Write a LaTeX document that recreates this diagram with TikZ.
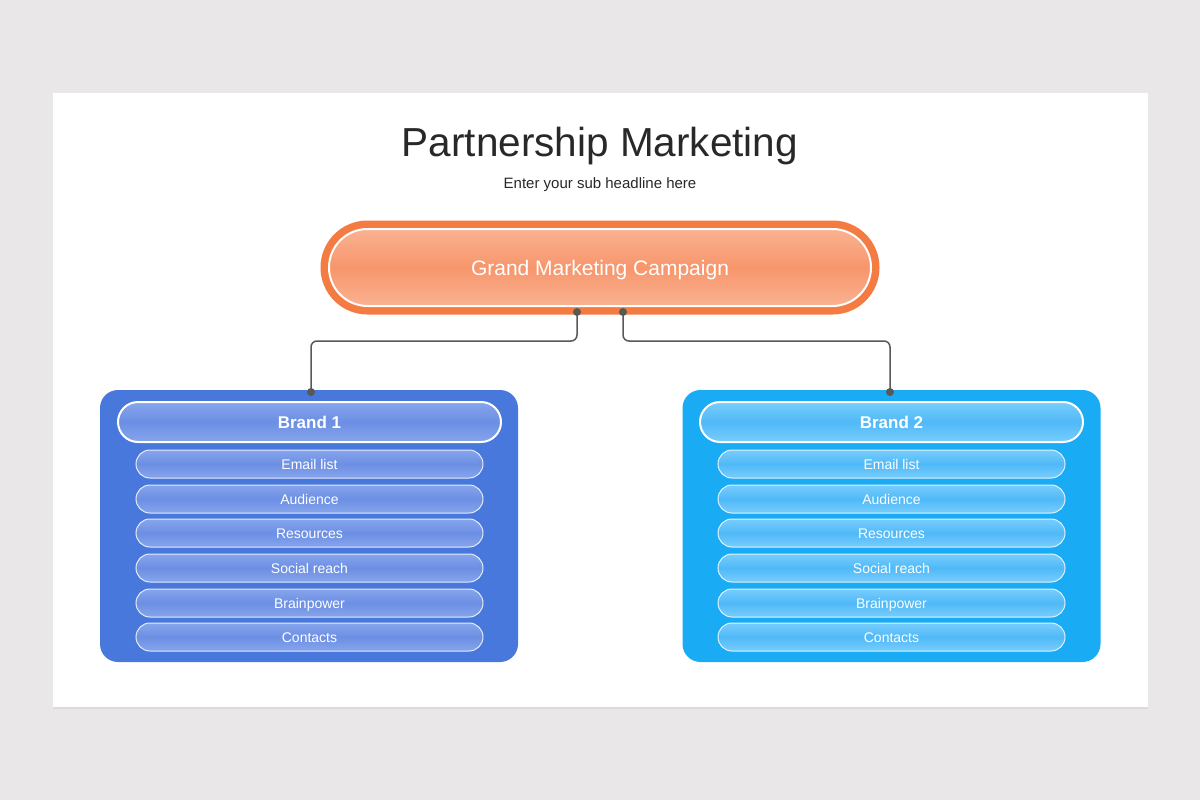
\documentclass[tikz,border=0pt]{standalone}
\usepackage{fontspec}
\setmainfont{Liberation Sans}
\usepackage{tikz}
\usetikzlibrary{positioning, shadows}
\definecolor{pagegray}{RGB}{233,231,232}
\definecolor{titlecolor}{RGB}{40,40,40}
\definecolor{orangeline}{RGB}{244,123,66}
\definecolor{orangetop}{RGB}{250,178,145}
\definecolor{orangemid}{RGB}{247,150,108}
\definecolor{brandAcolor}{RGB}{72,120,220}
\definecolor{brandAtop}{RGB}{135,165,236}
\definecolor{brandAmid}{RGB}{108,143,228}
\definecolor{brandBcolor}{RGB}{26,171,245}
\definecolor{brandBtop}{RGB}{120,205,252}
\definecolor{brandBmid}{RGB}{80,185,248}
\definecolor{linkcolor}{RGB}{88,88,88}

\begin{document}
\begin{tikzpicture}[
    x=1pt, y=-1pt,
    campaign/.style={shade, top color=orangetop, bottom color=orangetop, middle color=orangemid,
        draw=white, line width=2pt, preaction={draw=orangeline, line width=17pt},
        minimum width=542pt, minimum height=77pt, rounded corners=38.5pt, inner sep=0pt,
        text=white, font=\fontsize{21}{21}\selectfont, text height=15.1pt, text depth=0pt},
    brandbox/.style={fill=#1, minimum width=418pt, minimum height=272pt, rounded corners=18pt},
    brandhead/.style={shade, top color=#1top, bottom color=#1top, middle color=#1mid,
        draw=white, line width=2pt, minimum width=383pt, minimum height=40pt, rounded corners=20pt,
        inner sep=0pt, text=white, font=\bfseries\fontsize{17}{17}\selectfont, text height=12.2pt, text depth=0pt},
    item/.style={shade, top color=#1top, bottom color=#1top, middle color=#1mid,
        draw=white!85!#1color, line width=1pt, minimum width=347pt, minimum height=28pt, rounded corners=14pt,
        inner sep=0pt, text=white, font=\fontsize{14}{14}\selectfont, text height=10pt, text depth=0pt},
    link/.style={draw=linkcolor, line width=1.5pt, rounded corners=6pt},
    dot/.style={fill=linkcolor}
]
    \fill[pagegray] (0,0) rectangle (1200,800);
    \useasboundingbox (0,0) rectangle (1200,800);
    \fill[white, drop shadow={opacity=0.12, shadow xshift=0pt, shadow yshift=-2pt}] (53,93) rectangle (1148,707);

    % Headline
    \node[anchor=base, text=titlecolor, font=\fontsize{40.5}{40.5}\selectfont] (title) at (600,156) {Partnership Marketing};
    \node[anchor=base, text=titlecolor, font=\fontsize{15}{15}\selectfont] (subtitle) at (600,188) {Enter your sub headline here};

    \node[campaign] (camp) at (600,267.5) {Grand Marketing Campaign};

    % Brand 1
    \node[brandbox=brandAcolor] (brandA) at (309,526) {};
    \node[brandhead=brandA] (headA) at (309.5,422) {Brand 1};
    \node[item=brandA] (emailA) at (309.5,464) {Email list};
    \node[item=brandA] (audA) at (309.5,499) {Audience};
    \node[item=brandA] (resA) at (309.5,533) {Resources};
    \node[item=brandA] (socA) at (309.5,568) {Social reach};
    \node[item=brandA] (brainA) at (309.5,603) {Brainpower};
    \node[item=brandA] (contA) at (309.5,637) {Contacts};

    % Brand 2
    \node[brandbox=brandBcolor] (brandB) at (891.5,526) {};
    \node[brandhead=brandB] (headB) at (891.5,422) {Brand 2};
    \node[item=brandB] (emailB) at (891.5,464) {Email list};
    \node[item=brandB] (audB) at (891.5,499) {Audience};
    \node[item=brandB] (resB) at (891.5,533) {Resources};
    \node[item=brandB] (socB) at (891.5,568) {Social reach};
    \node[item=brandB] (brainB) at (891.5,603) {Brainpower};
    \node[item=brandB] (contB) at (891.5,637) {Contacts};

    % Links
    \coordinate (dotL) at (577,312);
    \coordinate (dotR) at (623,312);
    \coordinate (endA) at (311,392);
    \coordinate (endB) at (890,392);
    \draw[link] (dotL) -- ++(0,29) -| (endA);
    \draw[link] (dotR) -- ++(0,29) -| (endB);
    \fill[dot] (dotL) circle (4pt);
    \fill[dot] (dotR) circle (4pt);
    \fill[dot] (endA) circle (4pt);
    \fill[dot] (endB) circle (4pt);
\end{tikzpicture}
\end{document}
